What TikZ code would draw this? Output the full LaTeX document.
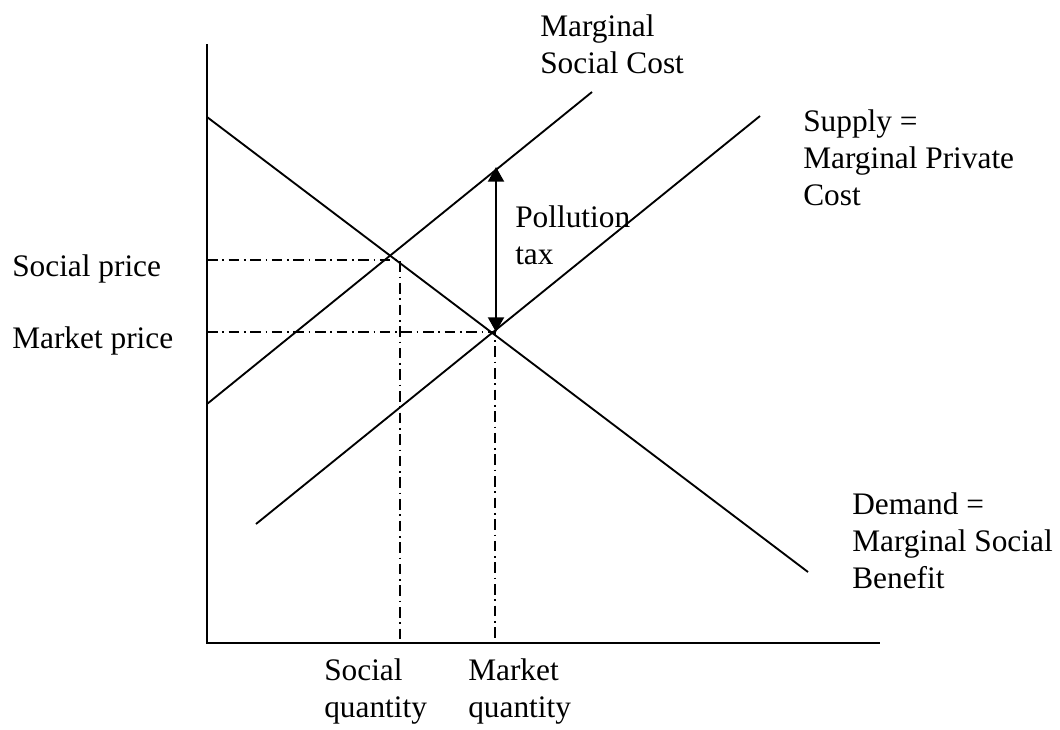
\documentclass[tikz,border=0pt]{standalone}
\usepackage{fontspec}
\setmainfont{Liberation Serif}
\usetikzlibrary{arrows.meta}
\begin{document}
\begin{tikzpicture}[x=0.75pt,y=-0.75pt,
  axisline/.style={line width=1.6pt},
  curve/.style={line width=1.4pt},
  guide/.style={line width=1.2pt,dash pattern=on 8pt off 3.5pt on 1.2pt off 3.5pt},
  taxarrow/.style={line width=1.5pt,{Triangle[length=11pt,width=12pt]}-{Triangle[length=11pt,width=12pt]}},
  lbl/.style={inner sep=0pt,anchor=base west,align=left,font=\fontsize{23.5}{27.75}\selectfont}]
\useasboundingbox (0,0) rectangle (1060,729);
% coordinates
\coordinate (O) at (207,643);
\coordinate (ytop) at (207,44);
\coordinate (xend) at (880,643);
\coordinate (D1) at (207,117);
\coordinate (D2) at (808,572);
\coordinate (S1) at (256,524);
\coordinate (S2) at (760,116);
\coordinate (M1) at (207,404);
\coordinate (M2) at (592,92);
\coordinate (sp) at (207,260);
\coordinate (sq) at (400,260);
\coordinate (sqb) at (400,643);
\coordinate (mp) at (207,332);
\coordinate (E) at (495,332);
\coordinate (mqb) at (495,643);
\coordinate (taxtop) at (496,167);
\coordinate (taxbot) at (496,332);
% guides
\draw[guide] (sp) -- (sq) -- (sqb);
\draw[guide] (mp) -- (E) -- (mqb);
% axes
\draw[axisline] (ytop) -- (O) -- (xend);
% curves
\draw[curve] (D1) -- (D2);
\draw[curve] (S1) -- (S2);
\draw[curve] (M1) -- (M2);
% tax arrow
\draw[taxarrow] (taxbot) -- (taxtop);
% labels (base = baseline of the last line)
\node[lbl] (msc) at (540,73) {Marginal\\Social Cost};
\node[lbl] (sup) at (803,205) {Supply =\\Marginal Private\\Cost};
\node[lbl] (tax) at (515,264) {Pollution\\tax};
\node[lbl] (sprice) at (12,276) {Social price};
\node[lbl] (mprice) at (12,348) {Market price};
\node[lbl] (dem) at (852,588) {Demand =\\Marginal Social\\Benefit};
\node[lbl] (squant) at (324,717) {Social\\quantity};
\node[lbl] (mquant) at (468,717) {Market\\quantity};
\end{tikzpicture}
\end{document}
